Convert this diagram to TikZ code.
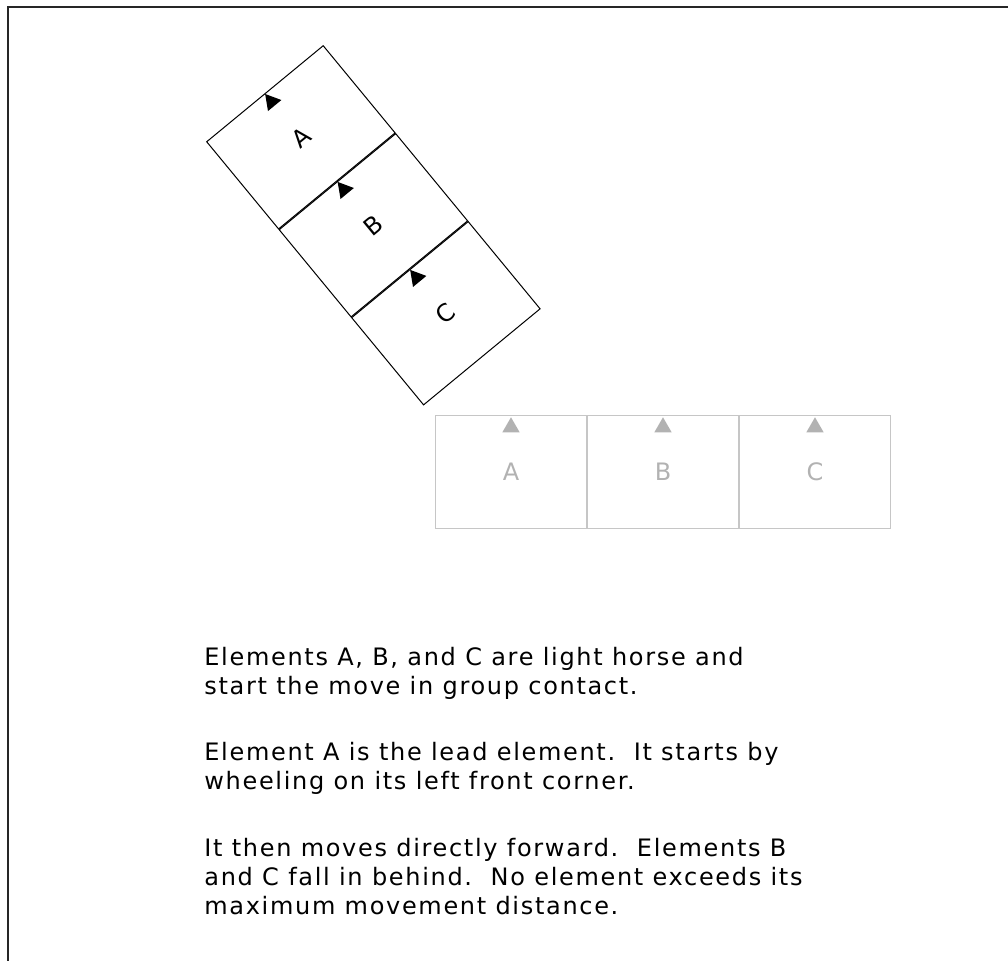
\documentclass[tikz,border=0pt]{standalone}
\usepackage{fontspec}
\setmainfont{DejaVu Sans}
\newfontfamily\notefont{DejaVu Sans}[LetterSpace=7]
\usetikzlibrary{shapes.geometric, positioning}

\tikzset{
  elem/.style={draw, line width=0.5pt, minimum width=75.5pt, minimum height=56.5pt,
               inner sep=0pt, font=\fontsize{12}{14}\selectfont},
  ghost/.style={elem, draw=gray!45, text=gray!60},
  facing/.style={regular polygon, regular polygon sides=3, fill, inner sep=0pt,
                 minimum size=10pt, anchor=corner 1},
}

\begin{document}
\begin{tikzpicture}[x=0.5pt, y=-0.5pt]
  \useasboundingbox (0,0) rectangle (1008,961);
  % frame, open at right and bottom
  \draw[line width=0.8pt, black!85] (8,961) -- (8,7) -- (1008,7);

  % column after the wheel, pivot on A's left front corner
  \begin{scope}[shift={(206,141.7)}, rotate=39.5, transform shape]
    \node[elem, anchor=north west] (wA) at (0,0) {A};
    \node[elem, anchor=north] (wB) at (wA.south) {B};
    \node[elem, anchor=north] (wC) at (wB.south) {C};
    \foreach \e in {wA,wB,wC}
      \node[facing] at (\e.north) {};
  \end{scope}

  % starting position, in line
  \node[ghost, anchor=north west] (gA) at (435,415) {A};
  \node[ghost, right=0pt of gA] (gB) {B};
  \node[ghost, right=0pt of gB] (gC) {C};
  \foreach \e in {gA,gB,gC}
    \node[facing, fill=gray!60] at ([yshift=-0.75pt]\e.north) {};

  % explanation (anchored on the last line's baseline)
  \node[anchor=base west, inner sep=0pt, align=left,
        font=\notefont\fontsize{12}{14.5}\selectfont] (notes) at (204,914.5)
    {Elements A, B, and C are light horse and\\
     start the move in group contact.\\[18.8pt]
     Element A is the lead element.\ \ It starts by\\
     wheeling on its left front corner.\\[18.8pt]
     It then moves directly forward.\ \ Elements B\\
     and C fall in behind.\ \ No element exceeds its\\
     maximum movement distance.};
\end{tikzpicture}
\end{document}
